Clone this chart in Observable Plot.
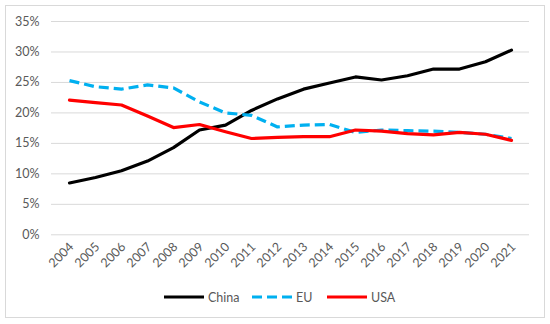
<!DOCTYPE html>
<html><head><meta charset="utf-8">
<script src="https://cdn.jsdelivr.net/npm/d3@7"></script>
<script src="https://cdn.jsdelivr.net/npm/@observablehq/plot@0.6"></script>
<style>
body{margin:0;background:#fff;font-family:Lato,"Open Sans",sans-serif;}
#frame{position:absolute;left:5px;top:5px;width:538px;height:311px;border:1.5px solid #d9d9d9;}
#chart{position:absolute;left:0;top:0;}
#legend{position:absolute;top:288px;left:0;width:550px;height:18px;font-size:12.5px;color:#595959;}
.item{position:absolute;top:0;display:flex;align-items:center;height:18px;}
</style></head><body>
<div id="frame"></div>
<div id="chart"></div>
<div id="legend"></div>
<script>
const years = [2004,2005,2006,2007,2008,2009,2010,2011,2012,2013,2014,2015,2016,2017,2018,2019,2020,2021];
const china = [8.5,9.4,10.5,12.1,14.3,17.2,18.0,20.4,22.3,23.9,24.9,25.9,25.4,26.1,27.2,27.2,28.4,30.3];
const eu    = [25.3,24.3,23.9,24.6,24.1,21.8,20.0,19.6,17.7,18.0,18.1,16.8,17.2,17.1,17.0,16.8,16.5,15.8];
const usa   = [22.1,21.7,21.3,19.5,17.6,18.1,16.9,15.8,16.0,16.1,16.1,17.2,17.0,16.6,16.4,16.8,16.5,15.5];
const yTicks = [0,5,10,15,20,25,30,35];
const seriesNames = ["China","EU","USA"];
const colors = ["#000000","#00b0f0","#ff0000"];

const rows = (vals) => years.map((y,i)=>({year:y, v:vals[i]}));
const lineOpts = {x:"year", y:"v", strokeWidth:3.2, strokeLinejoin:"round"};

const plot = Plot.plot({
  width:550, height:280,
  marginLeft:51, marginRight:21, marginTop:21, marginBottom:45.7,
  style:{fontFamily:"Lato, 'Open Sans', sans-serif", fontSize:"12.5px", color:"#595959", background:"transparent"},
  x:{type:"point", domain:years, padding:0.5, label:null},
  y:{domain:[0,35], label:null},
  marks:[
    Plot.gridY(yTicks, {stroke:"#d9d9d9", strokeOpacity:1, strokeWidth:1}),
    Plot.axisY(yTicks, {tickSize:0, tickPadding:12, tickFormat:d=>d+"%", fill:"#595959", label:null}),
    Plot.axisX(years, {tickSize:0, tickRotate:-45, tickPadding:10, tickFormat:d=>String(d), fill:"#595959", dx:2, label:null}),
    Plot.line(rows(china), {...lineOpts, stroke:colors[0]}),
    Plot.line(rows(eu), {...lineOpts, stroke:colors[1], strokeDasharray:"10,5", strokeLinecap:"butt"}),
    Plot.line(rows(usa), {...lineOpts, stroke:colors[2]})
  ]
});
document.getElementById("chart").appendChild(plot);

const legend = document.getElementById("legend");
const pos = [164, 252, 327];
seriesNames.forEach((n,i)=>{
  const d = document.createElement("div");
  d.className="item"; d.style.left = pos[i]+"px";
  const dash = i===1 ? 'stroke-dasharray="10,5"' : '';
  d.innerHTML = `<svg width="40" height="6"><line x1="0" y1="3" x2="40" y2="3" stroke="${colors[i]}" stroke-width="3.2" ${dash}/></svg><span style="margin-left:4px">${n}</span>`;
  legend.appendChild(d);
});
</script>
</body></html>
